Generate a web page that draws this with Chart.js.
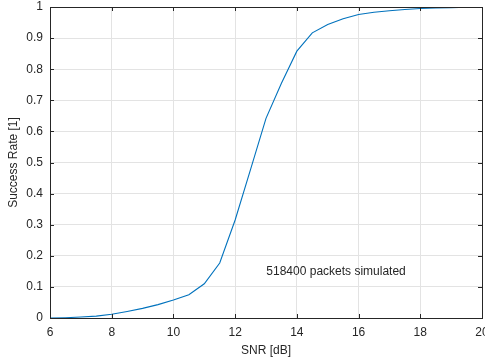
<!DOCTYPE html>
<html>
<head>
<meta charset="utf-8">
<script src="https://cdn.jsdelivr.net/npm/chart.js@4/dist/chart.umd.min.js"></script>
<style>
  html, body { margin: 0; padding: 0; background: #fff; }
  #wrap { width: 485px; height: 362px; }
</style>
</head>
<body>
<div id="wrap"><canvas id="c" width="485" height="362"></canvas></div>
<script>
// SNR values [dB]
const snr = [6, 6.5, 7, 7.5, 8, 8.5, 9, 9.5, 10, 10.5, 11, 11.5, 12, 12.5, 13, 13.5, 14, 14.5, 15, 15.5, 16, 16.5, 17, 17.5, 18, 18.5, 19, 19.5, 20];
// Success rate
const successRate = [0.0, 0.001, 0.003, 0.006, 0.012, 0.021, 0.031, 0.043, 0.058, 0.075, 0.11, 0.177, 0.315, 0.478, 0.642, 0.755, 0.858, 0.917, 0.944, 0.962, 0.976, 0.983, 0.988, 0.992, 0.995, 0.997, 0.998, 0.999, 0.999];
const xTicks = [6, 8, 10, 12, 14, 16, 18, 20];
const yTicks = [0, 0.1, 0.2, 0.3, 0.4, 0.5, 0.6, 0.7, 0.8, 0.9, 1];
const annotationText = "518400 packets simulated";
const annotationPos = [15.27, 0.148];

const TEXT = '#262626';
const FONT = "'Liberation Sans', Arial, Helvetica, sans-serif";
const FS = 12;

const boxPlugin = {
  id: 'box',
  afterDatasetsDraw(chart) {
    const {ctx, chartArea: a, scales: {x, y}} = chart;
    ctx.save();
    ctx.strokeStyle = TEXT;
    ctx.lineWidth = 1;
    ctx.beginPath();
    const tl = 4;
    xTicks.forEach(v => {
      const px = Math.round(x.getPixelForValue(v)) + 0.5;
      ctx.moveTo(px, a.bottom); ctx.lineTo(px, a.bottom - tl);
      ctx.moveTo(px, a.top); ctx.lineTo(px, a.top + tl);
    });
    yTicks.forEach(v => {
      const py = Math.round(y.getPixelForValue(v)) + 0.5;
      ctx.moveTo(a.left, py); ctx.lineTo(a.left + tl, py);
      ctx.moveTo(a.right, py); ctx.lineTo(a.right - tl, py);
    });
    ctx.stroke();
    ctx.beginPath();
    ctx.rect(Math.round(a.left) + 0.5, Math.round(a.top) + 0.5, Math.round(a.right - a.left), Math.round(a.bottom - a.top));
    ctx.stroke();
    // annotation
    ctx.fillStyle = TEXT;
    ctx.font = FS + 'px ' + FONT;
    ctx.textAlign = 'center';
    ctx.textBaseline = 'middle';
    ctx.fillText(annotationText, x.getPixelForValue(annotationPos[0]), y.getPixelForValue(annotationPos[1]));
    ctx.restore();
  }
};

new Chart(document.getElementById('c'), {
  type: 'line',
  data: {
    datasets: [{
      data: snr.map((s, i) => ({x: s, y: successRate[i]})),
      borderColor: '#0072BD',
      borderWidth: 1.1,
      pointRadius: 0,
      tension: 0,
      fill: false
    }]
  },
  options: {
    responsive: false,
    animation: false,
    devicePixelRatio: 1,
    layout: { padding: { top: 7, right: 3, left: 0, bottom: 0 } },
    plugins: { legend: { display: false }, tooltip: { enabled: false } },
    scales: {
      x: {
        type: 'linear', min: 6, max: 20,
        afterBuildTicks: s => { s.ticks = xTicks.map(v => ({value: v})); },
        afterFit: s => { s.height = 44; s.paddingLeft = 0; s.paddingRight = 0; },
        grid: { color: '#e3e3e3', drawTicks: false },
        border: { color: TEXT, width: 1 },
        ticks: { color: TEXT, font: { family: FONT, size: FS }, padding: 7, maxRotation: 0, autoSkip: false },
        title: { display: true, text: 'SNR [dB]', color: TEXT, font: { family: FONT, size: FS }, padding: { top: 0, bottom: 4 } }
      },
      y: {
        type: 'linear', min: 0, max: 1,
        afterBuildTicks: s => { s.ticks = yTicks.map(v => ({value: v})); },
        afterFit: s => { s.width = 50; s.paddingTop = 0; s.paddingBottom = 0; },
        grid: { color: '#e3e3e3', drawTicks: false },
        border: { color: TEXT, width: 1 },
        ticks: { color: TEXT, font: { family: FONT, size: FS }, padding: 7, autoSkip: false, callback: v => String(Math.round(v * 10) / 10) },
        title: { display: true, text: 'Success Rate [1]', color: TEXT, font: { family: FONT, size: FS }, padding: { top: 6, bottom: 0 } }
      }
    }
  },
  plugins: [boxPlugin]
});
</script>
</body>
</html>
